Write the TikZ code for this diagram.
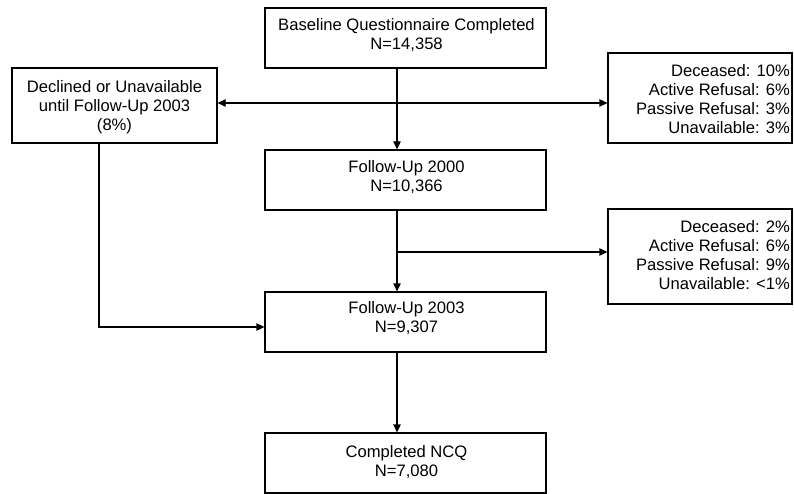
\documentclass[tikz,border=0pt]{standalone}
\usepackage{fontspec}
\setmainfont{Liberation Sans}
\usetikzlibrary{arrows.meta}
\tikzset{
  box/.style={draw=black, line width=1.3pt, rectangle, inner sep=0pt},
  txt/.style={inner sep=0pt, font=\fontsize{16.6}{19}\selectfont},
  conn/.style={line width=1.3pt, draw=black},
  arr/.style={conn, -{Triangle[length=8pt,width=7.5pt]}},
}
\begin{document}
\begin{tikzpicture}[x=1pt,y=-1pt]
\useasboundingbox (0,0) rectangle (794,494);
% boxes
\node[box, minimum width=281pt, minimum height=60pt] (base) at (405.5,38) {};
\node[box, minimum width=205pt, minimum height=75pt] (decl) at (114.5,105.5) {};
\node[box, minimum width=184pt, minimum height=90pt] (r1) at (700,98) {};
\node[box, minimum width=281pt, minimum height=60pt] (fu0) at (405.5,180) {};
\node[box, minimum width=184pt, minimum height=95pt] (r2) at (700,256.5) {};
\node[box, minimum width=281pt, minimum height=60pt] (fu3) at (405.5,322) {};
\node[box, minimum width=281pt, minimum height=60pt] (ncq) at (405.5,463) {};
% texts
\node[txt, align=center, anchor=north] (tbase) at (406.5,18.3) {Baseline Questionnaire Completed\\N=14,358};
\node[txt, align=center, anchor=north] (tdecl) at (114.5,80) {Declined or Unavailable\\until Follow-Up 2003\\(8\%)};
\node[txt, align=right, anchor=north east] (tr1) at (790,64) {Deceased: 10\%\\Active Refusal: 6\%\\Passive Refusal: 3\%\\Unavailable: 3\%};
\node[txt, align=center, anchor=north] (tfu0) at (406.5,160.7) {Follow-Up 2000\\N=10,366};
\node[txt, align=right, anchor=north east] (tr2) at (790,220) {Deceased: 2\%\\Active Refusal: 6\%\\Passive Refusal: 9\%\\Unavailable: <1\%};
\node[txt, align=center, anchor=north] (tfu3) at (406.5,301.7) {Follow-Up 2003\\N=9,307};
\node[txt, align=center, anchor=north] (tncq) at (406.5,445) {Completed NCQ\\N=7,080};
% junction coordinates
\coordinate (j1) at (397,103);
\coordinate (j2) at (397,252);
\coordinate (j3) at (99,327);
% connectors
\draw[arr] (base.south -| j1) -- (fu0.north -| j1);
\draw[arr] (j1) -- (decl.east |- j1);
\draw[arr] (j1) -- (r1.west |- j1);
\draw[arr] (fu0.south -| j2) -- (fu3.north -| j2);
\draw[arr] (j2) -- (r2.west |- j2);
\draw[arr] (decl.south -| j3) -- (j3) -- (fu3.west |- j3);
\draw[arr] (fu3.south -| j1) -- (ncq.north -| j1);
\end{tikzpicture}
\end{document}
